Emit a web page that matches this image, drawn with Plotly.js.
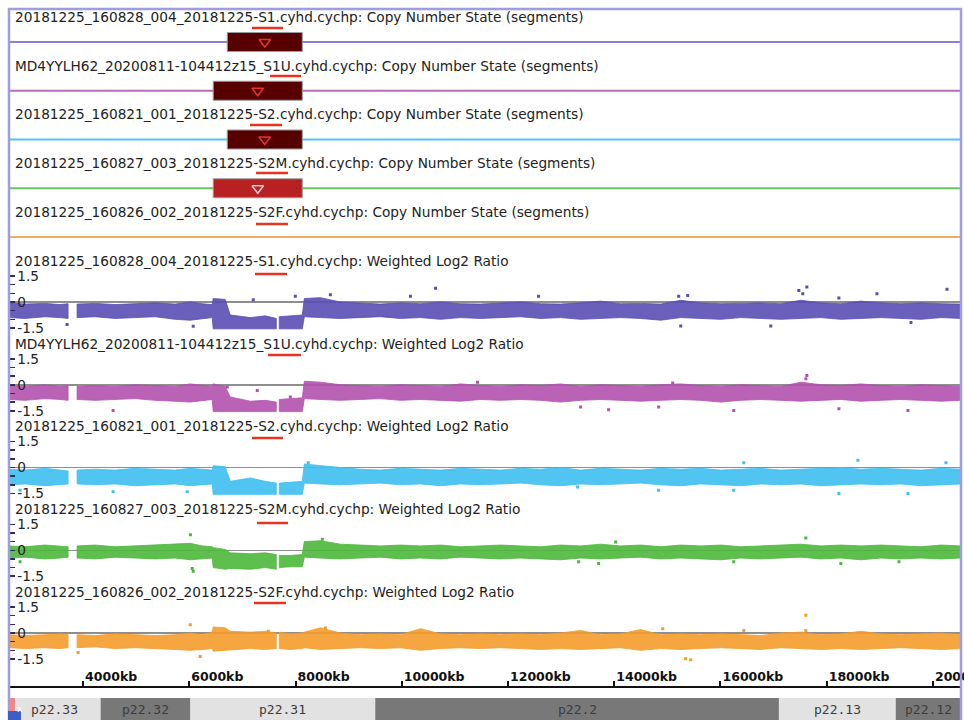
<!DOCTYPE html>
<html><head><meta charset="utf-8">
<script src="https://cdn.plot.ly/plotly-3.0.1.min.js"></script>
<style>html,body{margin:0;padding:0;background:#fff;}#chart{width:964px;height:720px;}</style>
</head><body><div id="chart"></div>
<script>
// ---------------- DATA ----------------
const sampleFiles = [
  "20181225_160828_004_20181225-S1.cyhd.cychp",
  "MD4YYLH62_20200811-104412z15_S1U.cyhd.cychp",
  "20181225_160821_001_20181225-S2.cyhd.cychp",
  "20181225_160827_003_20181225-S2M.cyhd.cychp",
  "20181225_160826_002_20181225-S2F.cyhd.cychp"
];
const cnSuffix = ": Copy Number State (segments)";
const log2Suffix = ": Weighted Log2 Ratio";

// copy number segments (kb)
const segTrack = [0, 1, 2, 3];
const segStart = [6714, 6450, 6714, 6450];
const segEnd   = [8127, 8127, 8127, 8127];

// probe band positions (kb), null = no probes
const pos = [2605, 2907, 3284, 3566, 3717, null, 3887, 4226, 4603, 4980, 5357, 5734, 6017, 6243, 6431,
  6450, 6676, 6770, 7147, 7430, 7637, null, 7694, 7901, 8127,
  8165, 8467, 8843, 9220, 9597, 9974, 10351, 10728, 11105, 11482, 11859, 12236, 12613, 12990, 13367,
  13743, 14120, 14497, 14874, 15251, 15628, 16005, 16382, 16759, 17136, 17513, 17890, 18266, 18643,
  19020, 19397, 19774, 20151, 20528];

// upper / lower extent of the log2 ratio cloud per track
const hiS1 = [-0.05,-0.12,-0.08,-0.15,-0.1, null, -0.12,-0.08,-0.15,-0.1,-0.05,-0.12,0.0,-0.1,-0.15,
  0.2,0.15,-0.75,-0.9,-0.8,-0.95, null, -0.85,-0.8,-0.75,
  0.2,0.25,0.0,-0.08,-0.12,-0.05,-0.1,0.0,-0.1,-0.12,-0.05,0.0,-0.1,-0.12,-0.05,0.05,-0.1,-0.08,-0.12,0.1,
  -0.05,-0.1,-0.08,-0.05,-0.1,0.1,-0.05,-0.1,0.05,-0.05,-0.1,-0.05,-0.1,-0.12];
const loS1 = [-0.9,-0.95,-0.85,-0.9,-0.95, null, -0.9,-0.85,-0.95,-0.9,-0.85,-1.0,-1.05,-0.95,-0.9,
  -1.55,-1.55,-1.55,-1.55,-1.55,-1.55, null, -1.55,-1.55,-1.55,
  -0.85,-0.9,-0.95,-0.9,-0.85,-0.95,-0.9,-1.0,-0.9,-0.95,-0.9,-0.85,-0.95,-0.9,-1.0,-0.95,-0.9,-0.95,-1.05,-0.9,
  -0.95,-1.0,-0.9,-0.95,-1.0,-0.95,-0.9,-1.0,-0.95,-0.9,-0.95,-1.0,-0.9,-0.95];

const hiS1U = [-0.05,-0.1,0.0,-0.1,-0.05, null, -0.1,-0.05,-0.1,0.0,-0.05,-0.1,0.05,-0.05,-0.1,
  0.05,-0.1,-0.7,-0.95,-0.9,-1.0, null, -0.85,-0.8,-0.75,
  0.2,0.15,0.0,-0.05,-0.1,0.0,-0.05,-0.1,0.05,-0.05,-0.1,0.0,-0.05,0.05,-0.1,0.0,-0.05,-0.1,0.0,0.05,
  -0.05,-0.1,0.0,-0.05,-0.1,0.15,0.0,-0.05,0.05,-0.05,-0.1,0.0,-0.05,-0.1];
const loS1U = [-0.85,-0.9,-0.8,-0.85,-0.9, null, -0.85,-0.9,-0.85,-0.8,-0.9,-0.95,-1.0,-0.9,-0.85,
  -1.55,-1.55,-1.55,-1.55,-1.55,-1.55, null, -1.55,-1.55,-1.55,
  -0.8,-0.85,-0.9,-0.85,-0.8,-0.9,-0.85,-0.9,-0.95,-0.85,-0.9,-0.85,-0.9,-1.0,-0.9,-0.85,-0.9,-0.95,-0.9,-0.85,
  -0.9,-1.0,-0.9,-0.85,-0.9,-0.95,-0.9,-0.85,-0.95,-0.9,-0.85,-0.9,-0.95,-0.9];

const hiS2 = [-0.1,-0.15,-0.05,-0.15,-0.2, null, -0.15,-0.1,-0.15,-0.05,-0.1,-0.15,-0.05,-0.1,-0.15,
  0.1,0.05,-0.8,-0.6,-0.8,-0.9, null, -0.9,-0.85,-0.8,
  0.2,0.1,0.0,-0.1,-0.15,-0.05,-0.1,-0.15,-0.05,-0.1,-0.15,-0.05,-0.1,0.0,-0.15,-0.05,-0.1,-0.15,-0.05,-0.1,
  -0.05,-0.15,-0.1,-0.05,-0.15,-0.1,-0.05,0.0,-0.1,-0.05,-0.1,-0.15,-0.05,-0.1];
const loS2 = [-1.0,-0.95,-1.05,-1.0,-0.95, null, -0.95,-1.0,-0.95,-1.05,-1.0,-0.95,-1.05,-1.0,-0.95,
  -1.55,-1.55,-1.55,-1.55,-1.55,-1.55, null, -1.55,-1.55,-1.55,
  -0.9,-0.95,-1.0,-0.95,-0.9,-1.0,-0.95,-1.05,-0.95,-1.0,-0.95,-0.9,-1.0,-1.05,-0.95,-1.0,-0.95,-0.9,-1.0,-1.05,
  -0.95,-1.0,-1.05,-0.95,-1.0,-0.95,-1.05,-1.0,-0.95,-1.0,-0.95,-1.05,-1.0,-0.95];

const hiS2M = [0.25,0.2,0.3,0.25,0.2, null, 0.25,0.3,0.2,0.25,0.3,0.35,0.4,0.25,0.2,
  0.15,0.05,-0.15,-0.2,-0.15,-0.25, null, -0.3,-0.3,-0.25,
  0.5,0.55,0.35,0.3,0.25,0.3,0.25,0.3,0.2,0.25,0.3,0.25,0.2,0.3,0.25,0.35,0.25,0.3,0.2,0.3,
  0.25,0.3,0.2,0.25,0.3,0.35,0.25,0.3,0.25,0.3,0.25,0.2,0.3,0.25];
const loS2M = [-0.45,-0.4,-0.5,-0.45,-0.4, null, -0.45,-0.5,-0.4,-0.45,-0.5,-0.45,-0.55,-0.5,-0.45,
  -1.0,-1.1,-1.05,-1.1,-1.0,-1.1, null, -1.0,-0.95,-0.95,
  -0.4,-0.45,-0.5,-0.45,-0.4,-0.5,-0.45,-0.5,-0.4,-0.45,-0.5,-0.45,-0.5,-0.55,-0.45,-0.5,-0.45,-0.4,-0.5,-0.45,
  -0.5,-0.55,-0.45,-0.5,-0.45,-0.4,-0.5,-0.45,-0.55,-0.45,-0.5,-0.45,-0.5,-0.45];

const hiS2F = [-0.1,-0.15,-0.1,-0.05,-0.1, null, -0.1,-0.15,-0.05,-0.1,-0.15,-0.1,0.0,-0.1,0.05,
  0.35,0.3,0.1,0.05,0.1,0.0, null, 0.05,-0.05,0.0,
  0.05,0.3,0.0,-0.1,-0.05,-0.1,0.25,-0.05,-0.1,-0.05,-0.1,-0.05,-0.1,0.0,0.15,-0.1,-0.05,0.2,-0.1,-0.05,
  -0.1,-0.05,-0.1,-0.15,0.0,0.05,-0.1,-0.05,0.1,-0.05,-0.1,-0.05,0.0,-0.1];
const loS2F = [-0.85,-0.9,-0.85,-0.9,-0.85, null, -0.85,-0.8,-0.9,-0.85,-0.9,-0.95,-1.0,-0.95,-0.9,
  -1.05,-1.0,-0.95,-0.9,-0.95,-0.9, null, -0.9,-0.95,-0.9,
  -0.85,-0.95,-0.9,-0.85,-0.9,-0.85,-1.0,-0.9,-0.85,-0.9,-0.85,-0.9,-0.95,-0.9,-0.95,-0.9,-0.85,-1.0,-0.9,-0.95,
  -0.9,-0.85,-0.9,-0.95,-0.85,-0.9,-0.95,-0.9,-0.95,-0.9,-0.85,-0.9,-0.95,-0.9];

// isolated probes outside the cloud
const outPosS1 = [17475,17626,17550,20264,18945,15383,15213,12575,15251,16947,19586,18229,7995,7204,3698,6073,8655,10634,10163];
const outValS1 = [0.67,0.87,0.48,0.73,0.48,0.38,0.33,0.33,-1.38,-1.38,-1.19,0.23,0.33,0.13,-1.3,-1.4,0.42,0.8,0.33];
const outPosS1U = [17626,17607,15100,13367,14836,16250,18229,19529,13894,4565,7279,6714,7901,11425];
const outValS1U = [0.54,0.35,0.1,-1.29,-1.29,-1.48,-1.38,-1.48,-1.44,-1.48,-0.33,-0.13,-0.71,0.15];
const outPosS2 = [18587,16439,20245,16250,18229,19529,14836,13310,4565,5960,2813,8240];
const outValS2 = [0.42,0.27,0.27,-1.31,-1.5,-1.5,-1.31,-1.12,-1.4,-1.4,-1.31,0.27];
const outPosS2M = [6020,6054,6073,8504,2813,17607,14026,13329,13706,16250,18266,19360];
const outValS2M = [0.9,-1.06,-1.21,0.63,-0.67,0.71,0.48,-0.67,-0.77,-0.67,-0.77,-0.67];
const outPosS2F = [17607,17607,15345,15440,14912,16439,6017,3906,6205,8561,7487];
const outValS2F = [1.02,0.15,-1.48,-1.54,0.25,0.15,0.48,-1.12,-1.35,0.29,0.1];

// cytobands (kb)
const bandName  = ["p22.33","p22.32","p22.31","p22.2","p22.13","p22.12"];
const bandStart = [0, 4330, 6020, 9500, 17100, 19300];
const bandEnd   = [4330, 6020, 9500, 17100, 19300, 21900];
const bandStain = ["gneg","gpos","gneg","gpos","gneg","gpos"];

const xTickVals = [4000,6000,8000,10000,12000,14000,16000,18000,20000];
const yTickVals = [-1.5,-1,-0.5,0,0.5,1,1.5];
const yTickText = ["-1.5","","","0","","","1.5"];
const xRange = [2605, 20528];

// ---------------- STYLE / LAYOUT ----------------
const W = 964, H = 720, L = 9, R = 3;
const px2x = px => (px - L) / (W - L - R);
const py2y = py => 1 - py / H;
const FONT = "DejaVu Sans";
const trackColors = ["#5a4eb2","#b352ae","#3ebff0","#4cb83b","#f59c2c"];
const trackFills  = ["rgba(90,78,178,0.9)","rgba(179,82,174,0.9)","rgba(62,191,240,0.9)","rgba(76,184,59,0.9)","rgba(245,156,44,0.9)"];
const lineColors  = ["#8c82cc","#b86cb6","#52c4ef","#6cc263","#f2ab62"];
const segFill = ["#560000","#560000","#560000","#b72121"];
const triColor = ["#e3352c","#e3352c","#e3352c","#f6c4c4"];
const stainColor = {gneg:"#e2e2e2", gpos:"#787878"};

const log2Hi = [hiS1, hiS1U, hiS2, hiS2M, hiS2F];
const log2Lo = [loS1, loS1U, loS2, loS2M, loS2F];
const outPos = [outPosS1, outPosS1U, outPosS2, outPosS2M, outPosS2F];
const outVal = [outValS1, outValS1U, outValS2, outValS2M, outValS2F];

const cnLine0 = 42, cnStep = 48.75;
const cnTitleY = [17, 65.5, 114, 163, 212];
const zero0 = 302, zeroStep = 82.75, pxPerUnit = 17.33;
const log2TitleY = [261.5, 343.5, 426, 509, 591.5];

function bandPolygon(p, hi, lo) {
  const xs = [], ys = [];
  let seg = [];
  const flush = () => {
    if (seg.length) {
      seg.forEach(i => { xs.push(p[i]); ys.push(hi[i]); });
      for (let j = seg.length - 1; j >= 0; j--) { xs.push(p[seg[j]]); ys.push(lo[seg[j]]); }
      xs.push(p[seg[0]]); ys.push(hi[seg[0]]);
      xs.push(null); ys.push(null);
    }
    seg = [];
  };
  p.forEach((v, i) => { if (v === null || hi[i] === null) flush(); else seg.push(i); });
  flush();
  return {xs, ys};
}

const traces = [];
traces.push({type:"bar", orientation:"h", xaxis:"x", yaxis:"y",
  y:segTrack, base:segStart, x:segStart.map((s,i)=>segEnd[i]-s), width:0.39,
  marker:{color:segFill, line:{color:"#9c9c9c", width:1}}, hoverinfo:"skip"});
traces.push({type:"scatter", mode:"markers", xaxis:"x", yaxis:"y",
  x:segStart.map((s,i)=>(s+segEnd[i])/2), y:segTrack,
  marker:{symbol:"triangle-down-open", size:10, color:triColor, line:{width:1.6}}, hoverinfo:"skip"});

const annotations = [];
const shapes = [];
const layout = {
  width:W, height:H, margin:{l:L, r:R, t:0, b:0},
  paper_bgcolor:"#ffffff", plot_bgcolor:"rgba(0,0,0,0)", showlegend:false,
  font:{family:FONT, size:13.7, color:"#222"},
  xaxis:{range:xRange, domain:[0,1], anchor:"free", position:py2y(687), side:"top",
    showline:true, linecolor:"#111", linewidth:2, ticks:"outside", ticklen:5, tickwidth:2, tickcolor:"#111",
    tickvals:xTickVals, ticktext:xTickVals.map(v=>v+"kb"), ticklabelposition:"outside right",
    ticklabeloverflow:"allow",
    tickfont:{family:FONT, size:12.5, color:"#111", weight:700},
    showgrid:false, zeroline:false, fixedrange:true},
  yaxis:{domain:[py2y(245), py2y(9)], range:[(245-cnLine0)/cnStep, (9-cnLine0)/cnStep],
    visible:false, fixedrange:true, anchor:"x"}
};

for (let k = 0; k < 5; k++) {
  const ax = "y" + (k + 2);
  const z = zero0 + zeroStep * k;
  const half = 2 * pxPerUnit;
  layout["yaxis" + (k + 2)] = {
    domain:[py2y(z + half), py2y(z - half)], range:[-2, 2], anchor:"x", side:"left",
    tickvals:yTickVals, ticktext:yTickText, ticks:"inside", ticklen:6, tickwidth:1.5, tickcolor:"#2c2c5e",
    ticklabelposition:"inside", ticklabelstandoff:2, tickfont:{family:FONT, size:13.7, color:"#222"},
    showline:false, showgrid:false, zeroline:true, zerolinecolor:"#8e8e8e", zerolinewidth:1.5, fixedrange:true
  };
  const poly = bandPolygon(pos, log2Hi[k], log2Lo[k]);
  traces.push({type:"scatter", mode:"lines", xaxis:"x", yaxis:ax, x:poly.xs, y:poly.ys,
    fill:"toself", fillcolor:trackFills[k], line:{color:trackColors[k], width:0.8}, hoverinfo:"skip"});
  traces.push({type:"scatter", mode:"markers", xaxis:"x", yaxis:ax, x:outPos[k], y:outVal[k],
    marker:{symbol:"square", size:3, color:trackColors[k]}, hoverinfo:"skip"});

  shapes.push({type:"line", layer:"below", xref:"paper", x0:0, x1:1, yref:"y", y0:k, y1:k,
    line:{color:lineColors[k], width:2}});
  annotations.push({xref:"paper", yref:"paper", x:px2x(13), y:py2y(cnTitleY[k]), xanchor:"left", yanchor:"middle",
    text:sampleFiles[k] + cnSuffix, showarrow:false, font:{family:FONT, size:13.7, color:"#222"}});
  annotations.push({xref:"paper", yref:"paper", x:px2x(13), y:py2y(log2TitleY[k]), xanchor:"left", yanchor:"middle",
    text:sampleFiles[k] + log2Suffix, showarrow:false, font:{family:FONT, size:13.7, color:"#222"}});
}

// cytoband
layout.yaxis7 = {domain:[0, py2y(698)], range:[-0.5, 0.5], visible:false, fixedrange:true, anchor:"x"};
traces.push({type:"bar", orientation:"h", xaxis:"x", yaxis:"y7",
  y:bandName.map(()=>0), base:bandStart, x:bandStart.map((s,i)=>bandEnd[i]-s), width:1,
  marker:{color:bandStain.map(s=>stainColor[s]), line:{width:0}}, hoverinfo:"skip"});
bandName.forEach((n,i)=>{
  const a = Math.max(bandStart[i], xRange[0]), b = Math.min(bandEnd[i], xRange[1]);
  annotations.push({xref:"x", yref:"y7", x:(a+b)/2, y:0, text:n, showarrow:false,
    font:{family:"DejaVu Sans Mono", size:13, color:"#3c3c3c"}});
});

// red underline marks
const underlines = [[252,283,28],[270,301,76],[250,282,125],[256,288,173],[256,288,224],
  [255,287,274],[268,301,355],[252,283,438],[257,288,523],[254,286,603]];
underlines.forEach(u=>shapes.push({type:"line", xref:"paper", yref:"paper",
  x0:px2x(u[0]), x1:px2x(u[1]), y0:py2y(u[2]), y1:py2y(u[2]), line:{color:"#e8331f", width:2.5}}));

// frame and small widgets
shapes.push({type:"rect", xref:"paper", yref:"paper", x0:0, x1:1, y0:py2y(730), y1:py2y(9),
  line:{color:"#9d9de0", width:2.5}, fillcolor:"rgba(0,0,0,0)", layer:"above"});
shapes.push({type:"rect", xref:"paper", yref:"paper", x0:px2x(10), x1:px2x(15), y0:py2y(712), y1:py2y(698),
  line:{width:0}, fillcolor:"#ea8a8a"});
shapes.push({type:"rect", xref:"paper", yref:"paper", x0:px2x(8), x1:px2x(21), y0:py2y(721), y1:py2y(711),
  line:{width:0}, fillcolor:"#3c5fc6"});
annotations.push({xref:"paper", yref:"paper", x:px2x(14.5), y:py2y(716), text:"x", showarrow:false,
  font:{family:FONT, size:9, color:"#ffffff"}});

layout.shapes = shapes;
layout.annotations = annotations;

Plotly.newPlot("chart", traces, layout, {staticPlot:true, displayModeBar:false});
</script>
</body></html>
